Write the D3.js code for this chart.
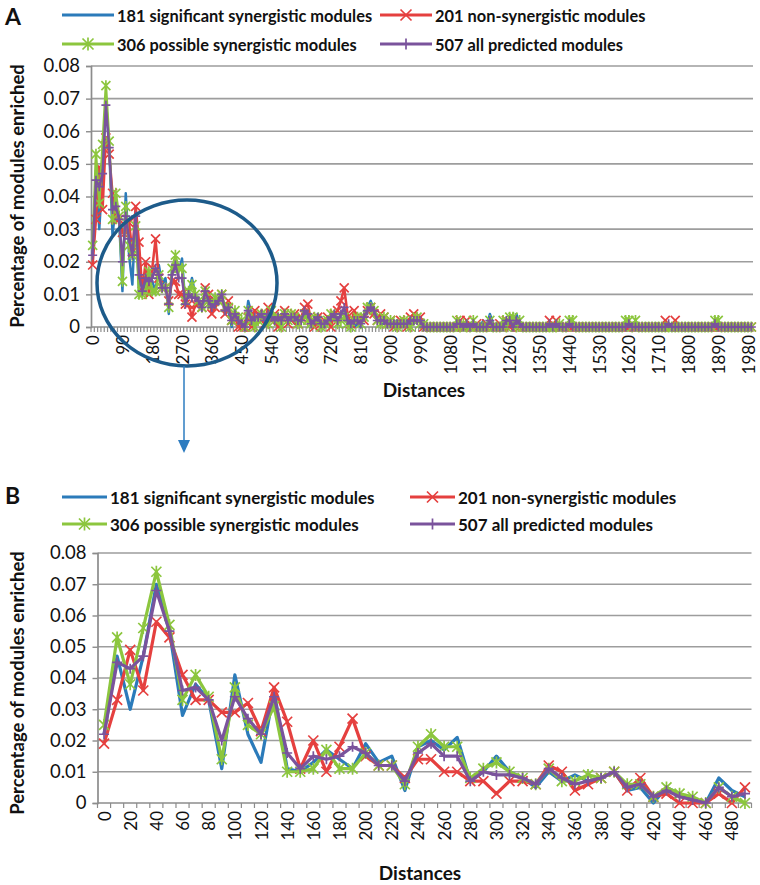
<!DOCTYPE html>
<html><head><meta charset="utf-8">
<script src="https://cdn.jsdelivr.net/npm/d3@7"></script>
<style>body{margin:0;background:#fff;} svg{display:block;font-family:Lato,"Open Sans",sans-serif;}</style>
</head><body><svg id="c" width="760" height="885"></svg>
<script>
const seriesNames = ["181 significant synergistic modules","201 non-synergistic modules","306 possible synergistic modules","507 all predicted modules"];
const seriesColors = ["#2b7bba","#e5403f","#8cc63e","#7a539c"];
const seriesMarkers = ["none","x","star","plus"];
const bCategories = d3.range(0, 500, 10);
const aCategories = d3.range(0, 2000, 10);
const bTickLabels = [0,20,40,60,80,100,120,140,160,180,200,220,240,260,280,300,320,340,360,380,400,420,440,460,480];
const aTickLabels = [0,90,180,270,360,450,540,630,720,810,900,990,1080,1170,1260,1350,1440,1530,1620,1710,1800,1890,1980];
const yTickValues = [0,0.01,0.02,0.03,0.04,0.05,0.06,0.07,0.08];

// distances 0..490 (panel B, also start of panel A)
const blueB = [0.022,0.047,0.030,0.047,0.070,0.055,0.028,0.038,0.033,0.011,
  0.041,0.022,0.013,0.036,0.011,0.010,0.013,0.017,0.014,0.011,
  0.019,0.013,0.015,0.004,0.018,0.020,0.017,0.021,0.007,0.010,
  0.015,0.010,0.008,0.005,0.010,0.007,0.009,0.007,0.008,0.010,
  0.004,0.005,0.000,0.005,0.003,0.001,0.000,0.008,0.004,0.002];
const redB = [0.019,0.033,0.049,0.036,0.058,0.053,0.041,0.033,0.033,0.029,
  0.029,0.032,0.023,0.037,0.026,0.011,0.020,0.010,0.018,0.027,
  0.015,0.012,0.012,0.008,0.014,0.014,0.010,0.010,0.007,0.007,
  0.003,0.007,0.007,0.006,0.012,0.010,0.004,0.006,0.008,0.010,
  0.004,0.008,0.002,0.003,0.000,0.000,0.000,0.003,0.000,0.005];
const greenB = [0.025,0.053,0.038,0.056,0.074,0.057,0.033,0.041,0.034,0.014,
  0.037,0.025,0.022,0.031,0.010,0.010,0.011,0.017,0.011,0.011,
  0.016,0.012,0.012,0.006,0.018,0.022,0.018,0.018,0.008,0.011,
  0.013,0.010,0.008,0.006,0.011,0.007,0.007,0.009,0.008,0.010,
  0.006,0.006,0.002,0.005,0.003,0.002,0.000,0.005,0.002,0.000];
const purpleB = [0.022,0.045,0.043,0.047,0.068,0.055,0.036,0.037,0.033,0.020,
  0.034,0.027,0.022,0.034,0.016,0.011,0.015,0.014,0.015,0.018,
  0.016,0.012,0.012,0.007,0.016,0.019,0.015,0.015,0.007,0.010,
  0.009,0.009,0.008,0.006,0.011,0.008,0.006,0.007,0.008,0.010,
  0.005,0.006,0.002,0.004,0.002,0.001,0.000,0.005,0.002,0.003];

// distances 500..990 (panel A only)
const blueMid = [0.003,0.005,0.002,0.004,0.003,0.001,0.004,0.002,0.005,0.002,
  0.003,0.001,0.004,0.002,0.005,0.003,0.001,0.002,0.004,0.001,
  0.000,0.002,0.003,0.004,0.002,0.004,0.005,0.003,0.001,0.000,
  0.001,0.000,0.004,0.006,0.008,0.005,0.003,0.001,0.001,0.002,
  0.000,0.001,0.002,0.001,0.000,0.001,0.002,0.001,0.002,0.003];
const redMid = [0.004,0.002,0.001,0.006,0.002,0.004,0.000,0.003,0.005,0.001,
  0.002,0.004,0.001,0.003,0.006,0.007,0.002,0.000,0.003,0.001,
  0.002,0.003,0.000,0.004,0.005,0.008,0.012,0.004,0.001,0.005,
  0.002,0.003,0.002,0.005,0.006,0.004,0.002,0.004,0.003,0.001,
  0.002,0.000,0.001,0.002,0.001,0.000,0.003,0.004,0.002,0.003];
const greenMid = [0.002,0.004,0.003,0.001,0.005,0.002,0.003,0.000,0.004,0.002,
  0.004,0.003,0.001,0.002,0.004,0.002,0.001,0.003,0.002,0.000,
  0.001,0.002,0.004,0.003,0.001,0.002,0.003,0.001,0.000,0.002,
  0.003,0.001,0.003,0.006,0.006,0.005,0.002,0.001,0.003,0.001,
  0.002,0.001,0.000,0.001,0.002,0.001,0.000,0.002,0.003,0.001];
const purpleMid = [0.003,0.004,0.002,0.004,0.003,0.002,0.003,0.002,0.004,0.002,
  0.003,0.003,0.002,0.002,0.005,0.004,0.001,0.002,0.003,0.001,
  0.001,0.002,0.003,0.004,0.002,0.004,0.006,0.002,0.001,0.002,
  0.002,0.001,0.003,0.005,0.006,0.005,0.002,0.002,0.002,0.001,
  0.001,0.001,0.001,0.001,0.001,0.001,0.002,0.002,0.002,0.002];

// distances 1000..1990 (panel A only)
const blueTail = [0,0,0,0,0,0,0,0,0,0,
  0.001,0.002,0,0,0.001,0,0,0,0.002,0,
  0.004,0.001,0,0,0,0,0.002,0,0.004,0.001,
  0,0,0.001,0,0,0,0,0,0.001,0,
  0,0,0.001,0,0,0,0,0,0,0,
  0,0,0,0,0,0,0,0,0,0,
  0,0,0,0.001,0,0,0,0,0,0,
  0,0,0,0,0,0,0,0,0,0,
  0,0,0,0,0,0,0,0,0.001,0,
  0,0,0,0,0,0,0,0,0,0];
const redTail = [0,0,0,0,0,0,0,0,0,0,
  0,0.002,0,0.002,0,0,0.001,0,0,0.001,
  0,0,0,0.001,0,0.002,0,0.001,0,0,
  0,0,0,0,0,0,0,0,0.002,0,
  0.002,0,0,0,0,0,0,0,0,0,
  0,0,0,0,0,0,0,0,0,0,
  0,0,0,0.001,0,0,0,0,0,0,
  0,0,0,0.002,0,0,0.002,0,0,0,
  0,0,0,0,0,0,0,0,0,0,
  0,0,0,0,0,0,0,0,0,0];
const greenTail = [0.001,0,0,0,0,0,0,0,0,0,
  0.002,0,0.001,0,0,0.002,0,0,0,0,
  0.002,0,0,0,0.002,0,0.003,0.003,0,0.002,
  0,0,0,0,0,0,0,0,0,0,
  0,0.001,0,0,0.002,0.002,0,0,0,0,
  0,0,0,0,0,0,0,0,0,0,
  0,0.002,0.002,0,0.002,0,0,0,0,0,
  0,0,0,0,0,0,0,0,0,0,
  0,0,0,0,0,0,0,0,0.002,0.002,
  0,0,0,0,0,0,0,0,0,0];
const purpleTail = [0,0,0,0,0,0,0,0,0,0,
  0.001,0.001,0,0.001,0,0.001,0,0,0,0,
  0.002,0,0,0,0,0.002,0.002,0,0.002,0.001,
  0,0,0,0,0,0,0,0,0.001,0,
  0.001,0,0,0,0.001,0,0,0,0,0,
  0,0,0,0,0,0,0,0,0,0,
  0,0,0.001,0,0,0,0,0,0,0,
  0,0,0,0,0.001,0,0,0,0,0,
  0,0,0,0,0,0,0,0,0.001,0,
  0,0,0,0,0,0,0,0,0,0];

const seriesB = [blueB, redB, greenB, purpleB];
const seriesA = [blueB.concat(blueMid, blueTail), redB.concat(redMid, redTail),
                 greenB.concat(greenMid, greenTail), purpleB.concat(purpleMid, purpleTail)];

const svg = d3.select("#c");
svg.append("rect").attr("width",760).attr("height",885).attr("fill","#fff");

function markerPath(type, s) {
  if (type === "x") return `M${-s},${-s}L${s},${s}M${-s},${s}L${s},${-s}`;
  if (type === "star") return `M${-s},${-s}L${s},${s}M${-s},${s}L${s},${-s}M0,${-s*1.2}L0,${s*1.2}`;
  if (type === "plus") return `M${-s},0L${s},0M0,${-s}L0,${s}`;
  return null;
}

function drawPanel(cfg) {
  const g = svg.append("g");
  const x = d3.scaleBand().domain(cfg.cats).range([cfg.left, cfg.right]).paddingInner(0).paddingOuter(0);
  const y = d3.scaleLinear().domain([0, 0.08]).range([cfg.bottom, cfg.top]);
  const bw = x.bandwidth();
  const cx = c => x(c) + bw / 2;

  g.selectAll(".grid").data(yTickValues.filter(v => v > 0)).join("line")
    .attr("x1", cfg.left).attr("x2", cfg.right)
    .attr("y1", d => y(d)).attr("y2", d => y(d))
    .attr("stroke", "#9d9d9d").attr("stroke-width", 1.7);

  const yAxis = d3.axisLeft(y).tickValues(yTickValues).tickSize(5).tickPadding(6)
    .tickFormat(d => d === 0 ? "0" : d.toFixed(2));
  const ya = g.append("g").attr("transform", `translate(${cfg.left},0)`).call(yAxis);
  ya.select(".domain").attr("stroke", "#8c8c8c").attr("stroke-width", 1.7);
  ya.selectAll(".tick line").attr("stroke", "#8c8c8c").attr("stroke-width", 1.4);
  ya.selectAll("text").attr("font-size", cfg.yFont).attr("fill", "#111").attr("font-family", "Lato, sans-serif");

  const bounds = cfg.cats.map(c => x(c)).concat([cfg.right]);
  g.selectAll(".xt").data(bounds).join("line")
    .attr("x1", d => d).attr("x2", d => d)
    .attr("y1", cfg.bottom).attr("y2", cfg.bottom + 5)
    .attr("stroke", "#8c8c8c").attr("stroke-width", 1.2);
  g.append("line").attr("x1", cfg.left).attr("x2", cfg.right)
    .attr("y1", cfg.bottom).attr("y2", cfg.bottom)
    .attr("stroke", "#8c8c8c").attr("stroke-width", 1.7);
  g.selectAll(".xl").data(cfg.tickLabels).join("text")
    .attr("transform", d => `translate(${cx(d)},${cfg.bottom + 8}) rotate(-90)`)
    .attr("text-anchor", "end").attr("dominant-baseline", "central")
    .attr("font-size", cfg.xFont).attr("fill", "#111")
    .text(d => d);

  const line = d3.line().x(d => cx(d[0])).y(d => y(d[1]));
  cfg.series.forEach((vals, si) => {
    const pts = cfg.cats.map((c, i) => [c, vals[i]]);
    g.append("path").datum(pts).attr("d", line)
      .attr("fill", "none").attr("stroke", seriesColors[si])
      .attr("stroke-width", cfg.lineWidth).attr("stroke-linejoin", "round");
    const mp = markerPath(seriesMarkers[si], cfg.markerSize);
    if (mp) {
      g.selectAll(null).data(pts).join("path")
        .attr("transform", d => `translate(${cx(d[0])},${y(d[1])})`)
        .attr("d", mp).attr("fill", "none").attr("stroke", seriesColors[si])
        .attr("stroke-width", 1.7);
    }
  });

  cfg.legendPos.forEach((p, si) => {
    const lg = g.append("g").attr("transform", `translate(${p[0]},${p[1]})`);
    lg.append("line").attr("x1", 0).attr("x2", cfg.legendLine).attr("y1", 0).attr("y2", 0)
      .attr("stroke", seriesColors[si]).attr("stroke-width", 3.2);
    const mp = markerPath(seriesMarkers[si], 5.5);
    if (mp) lg.append("path").attr("transform", `translate(${cfg.legendLine / 2},0)`).attr("d", mp)
      .attr("fill", "none").attr("stroke", seriesColors[si]).attr("stroke-width", 1.7);
    lg.append("text").attr("x", cfg.legendLine + 3).attr("y", 0).attr("dominant-baseline", "central")
      .attr("font-size", cfg.legendFont).attr("font-weight", "bold").attr("fill", "#111").text(seriesNames[si]);
  });

  g.append("text").attr("transform", `translate(${cfg.yTitleX},${cfg.yTitleY}) rotate(-90)`)
    .attr("text-anchor", "middle").attr("dominant-baseline", "central")
    .attr("font-size", 18.5).attr("font-weight", "bold").attr("fill", "#111")
    .text("Percentage of modules enriched");
  g.append("text").attr("x", cfg.xTitleX).attr("y", cfg.xTitleY).attr("text-anchor", "middle")
    .attr("dominant-baseline", "central")
    .attr("font-size", 19).attr("font-weight", "bold").attr("fill", "#111").text("Distances");
  g.append("text").attr("x", 5).attr("y", cfg.letterY).attr("dominant-baseline", "central")
    .attr("font-size", 23).attr("font-weight", "bold").attr("fill", "#111").text(cfg.letter);
  return { x, y, cx };
}

drawPanel({
  cats: aCategories, series: seriesA, left: 91, right: 753, top: 66, bottom: 327,
  tickLabels: aTickLabels, yFont: 18.5, xFont: 17, lineWidth: 2.5, markerSize: 4.5,
  legendPos: [[62, 15], [380, 15], [62, 44], [380, 44]], legendLine: 52, legendFont: 16.4,
  yTitleX: 17, yTitleY: 196, xTitleX: 424, xTitleY: 389, letter: "A", letterY: 16
});

svg.append("ellipse").attr("cx", 187).attr("cy", 283).attr("rx", 90).attr("ry", 83)
  .attr("fill", "none").attr("stroke", "#1d5b8a").attr("stroke-width", 3.5);
svg.append("line").attr("x1", 184).attr("x2", 184).attr("y1", 366).attr("y2", 442)
  .attr("stroke", "#2d7cc0").attr("stroke-width", 1.5);
svg.append("path").attr("d", "M178,440L190,440L184,453Z").attr("fill", "#2d7cc0");

drawPanel({
  cats: bCategories, series: seriesB, left: 97.5, right: 751.5, top: 553, bottom: 803,
  tickLabels: bTickLabels, yFont: 18.5, xFont: 17, lineWidth: 3.2, markerSize: 5,
  legendPos: [[62, 497], [410, 497], [62, 524], [410, 524]], legendLine: 45, legendFont: 17,
  yTitleX: 17, yTitleY: 683, xTitleX: 420, xTitleY: 872, letter: "B", letterY: 495
});
</script></body></html>
